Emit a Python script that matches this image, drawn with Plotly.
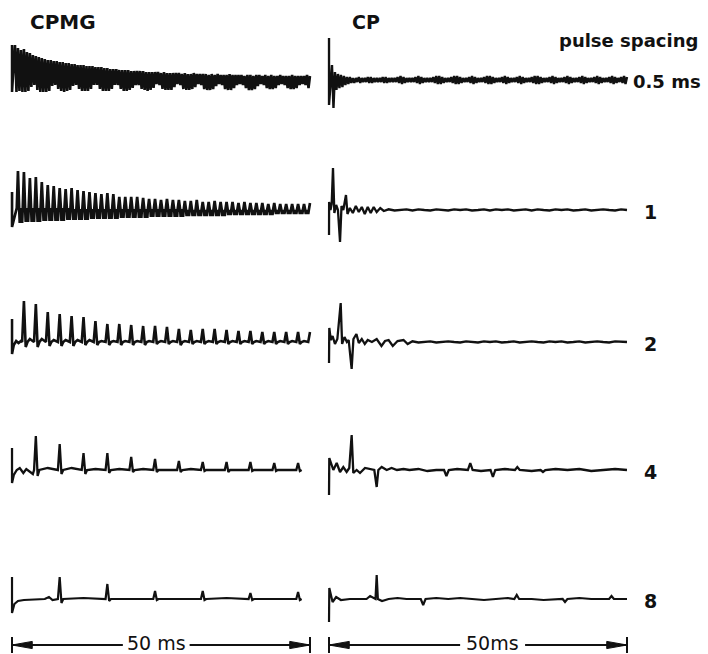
import plotly.graph_objects as go

# ---------------- data (amplitudes in arbitrary units) ----------------
total_ms = 50
pulse_spacing_ms = [0.5, 1, 2, 4, 8]
row_labels = ["0.5 ms", "1", "2", "4", "8"]
column_titles = ["CPMG", "CP"]
scale_bar_labels = ["50 ms", "50ms"]

# CPMG: initial pulse artefact (upper / lower excursion) per row
cpmg_start_hi = [35, 18, 23, 22, 22]
cpmg_start_lo = [-12, -17, -12, -13, -14]

# CPMG 0.5 ms: echo maxima and minima
cpmg05_top = [35, 32, 30, 31, 28, 27, 25, 24, 23, 22,
              21, 20, 20, 19, 19, 18, 18, 17, 17, 16,
              16, 15, 15, 15, 14, 14, 14, 13, 13, 13,
              12, 12, 11, 11, 11, 10, 10, 10, 10, 9,
              9, 9, 9, 9, 8, 8, 8, 8, 8, 7,
              8, 7, 7, 7, 7, 7, 6, 7, 6, 6,
              7, 6, 6, 6, 6, 5, 6, 5, 6, 5,
              5, 5, 6, 5, 5, 5, 5, 4, 5, 5,
              4, 5, 5, 4, 5, 4, 5, 4, 4, 5,
              4, 4, 4, 5, 4, 4, 4, 4, 5, 4]
cpmg05_bot = [-12, -11, -12, -12, -11, -7, -5, -10, -12, -12,
              -12, -11, -6, -5, -9, -11, -12, -11, -10, -6,
              -5, -9, -11, -11, -11, -9, -5, -5, -9, -11,
              -11, -11, -9, -5, -5, -9, -11, -11, -10, -8,
              -5, -5, -9, -10, -11, -10, -8, -4, -5, -9,
              -10, -10, -10, -7, -4, -5, -9, -10, -10, -9,
              -7, -4, -5, -9, -10, -10, -9, -6, -4, -5,
              -9, -10, -10, -8, -5, -4, -5, -8, -10, -10,
              -9, -6, -4, -5, -8, -9, -9, -8, -5, -4,
              -5, -8, -9, -9, -8, -5, -4, -5, -8, -9]

# CPMG 1 ms: echo maxima, upper edge of the dense lower band, band minima
cpmg1_top = [39, 38, 32, 33, 28, 25, 24, 22, 21, 22,
             20, 19, 18, 17, 16, 17, 16, 13, 13, 13,
             13, 12, 11, 11, 10, 11, 10, 10, 9, 9,
             10, 8, 8, 9, 8, 8, 8, 7, 8, 7,
             7, 7, 6, 7, 6, 6, 6, 6, 6, 7]
cpmg1_mid = [2, 2, 2, 2, 2, 2, 2, 2, 2, 1,
             1, 1, 1, 1, 1, 1, 1, 1, 1, 1,
             1, 1, 1, 1, 1, 1, 1, 1, 0, 0,
             0, 0, 0, 0, 0, 0, 0, 0, 0, 0,
             0, 0, 0, 0, 0, 0, 0, 0, 0, 0]
cpmg1_bot = [-13, -12, -12, -12, -11, -11, -11, -11, -10, -10,
             -10, -10, -9, -9, -9, -9, -9, -8, -8, -8,
             -8, -8, -7, -7, -7, -7, -7, -7, -6, -6,
             -6, -6, -6, -6, -6, -5, -5, -5, -5, -5,
             -5, -5, -5, -4, -4, -4, -4, -4, -4, -4]

# CPMG 2 ms
cpmg2_top = [41, 38, 30, 28, 26, 25, 21, 18, 18, 17,
             16, 16, 15, 13, 12, 13, 13, 12, 11, 11,
             10, 10, 10, 10, 10]
cpmg2_dip = [-5, -5, -4, -4, -4, -3, -3, -3, -3, -3,
             -3, -2, -2, -3, -2, -2, -2, -2, -2, -2,
             -2, -2, -2, -2, -2]
cpmg2_bump = [3, 3, 2, 2, 2, 2, 1, 1, 1, 1, 1, 1,
              1, 1, 1, 1, 1, 1, 1, 1, 1, 1, 1, 1]
cpmg2_pre_t = [0.3, 0.7, 1.1, 1.5]
cpmg2_pre_y = [-3, 1, -1, 1]

# CPMG 4 ms
cpmg4_top = [34, 26, 17, 17, 13, 11, 9, 8, 8, 8, 7, 7]
cpmg4_dip = [-6, -4, -4, -3, -2, -2, -2, -1, -2, -1, -1, -1]
cpmg4_bump = [2, 2, 1, 1, 1, 0, 1, 0, 0, 0, 0]
cpmg4_pre_t = [0.3, 0.8, 1.3, 1.9, 2.4, 3.0, 3.5]
cpmg4_pre_y = [-5, 0, 2, -3, 1, -2, -4]

# CPMG 8 ms
cpmg8_top = [22, 15, 8, 8, 6, 7]
cpmg8_dip = [-4, -2, -1, -1, -1, -1]
cpmg8_bump = [1, 0, 0, 1, 0]
cpmg8_pre_t = [0.4, 1.0, 2.0, 4.0, 5.5, 6.2, 6.8]
cpmg8_pre_y = [-5, -2, -1, 0, 0, 2, -1]

# CP 0.5 ms: start artefact, then echo maxima / minima
cp05_start_hi = 42
cp05_start_lo = -25
cp05_top = [15, 8, 6, 5, 4, 3, 3, 2, 2, 3,
            2, 2, 3, 3, 2, 2, 2, 3, 3, 2,
            2, 2, 3, 4, 3, 2, 2, 2, 3, 4,
            3, 2, 2, 2, 3, 4, 4, 3, 2, 2,
            3, 4, 4, 3, 2, 2, 3, 4, 3, 2,
            2, 3, 4, 4, 3, 2, 2, 3, 4, 3,
            2, 2, 3, 4, 3, 2, 2, 3, 4, 4,
            3, 2, 2, 3, 4, 3, 2, 2, 3, 4,
            3, 2, 2, 3, 4, 3, 2, 2, 3, 4,
            3, 2, 2, 3, 4, 3, 2, 3, 4, 3]
cp05_bot = [-28, -10, -8, -7, -5, -4, -3, -3, -2, -3,
            -2, -2, -3, -3, -2, -2, -2, -3, -3, -2,
            -2, -2, -3, -4, -3, -2, -2, -2, -3, -4,
            -3, -2, -2, -2, -3, -4, -4, -3, -2, -2,
            -3, -4, -4, -3, -2, -2, -3, -4, -3, -2,
            -2, -3, -4, -4, -3, -2, -2, -3, -4, -3,
            -2, -2, -3, -4, -3, -2, -2, -3, -4, -4,
            -3, -2, -2, -3, -4, -3, -2, -2, -3, -4,
            -3, -2, -2, -3, -4, -3, -2, -2, -3, -4,
            -3, -2, -2, -3, -4, -3, -2, -3, -4, -3]

# CP 1 ms
cp1_t = [0, 0.02, 0.25, 0.45, 0.67, 0.9, 1.2, 1.5, 1.85, 2.1,
         2.4, 2.85, 3.1, 3.5, 4.0, 4.5, 5.0, 5.5, 6.0, 6.5,
         7.0, 7.5, 8.0, 8.6, 9.2,
         10, 11, 12, 13, 14, 15, 16, 17, 18, 19,
         20, 21, 22, 23, 24, 25, 26, 27, 28, 29,
         30, 31, 32, 33, 34, 35, 36, 37, 38, 39,
         40, 41, 42, 43, 44, 45, 46, 47, 48, 49, 50]
cp1_y = [-25, 8, 0, 6, 42, -3, 5, 0, -32, 4,
         0, 15, -4, 2, -3, 4, -2, 3, -4, 3,
         -3, 3, -2, 2, -1,
         0.7, -0.5, 0, 0.7, -0.5, 0.7, 0, -0.5, 0.7, 0,
         -0.5, 0.7, 0, 0.7, -0.5, 0, 0.7, -0.5, 0.7, 0,
         0.7, -0.5, 0, 0.7, -0.5, 0.7, 0, -0.5, 0.7, 0,
         0.7, -0.5, 0, 0.7, -0.5, 0, 0.7, 0, -0.5, 0.7, 0]

# CP 2 ms
cp2_t = [0, 0.05, 0.3, 0.6, 1.0, 1.4, 1.96, 2.2, 2.6, 3.0,
         3.3, 3.8, 4.1, 4.6, 5.0, 5.5, 6.0, 6.5, 7.2, 8.0,
         8.8, 9.4, 10.0, 10.7, 11.5, 12.5, 13.2,
         14, 15, 16, 17, 18, 19, 20, 21, 22, 23,
         24, 25, 26, 27, 28, 29, 30, 31, 32, 33,
         34, 35, 36, 37, 38, 39, 40, 41, 42, 43,
         44, 45, 46, 47, 48, 49, 50]
cp2_y = [-21, 14, 2, 6, -2, 3, 39, -2, 5, 0,
         2, -27, 3, 8, -1, 3, -2, 2, 0, 3,
         -4, 1, 2, -4, 1, 2, -2,
         0.7, -0.5, 0, 0.7, -0.5, 0, 0.7, 0, -0.5, 0.7,
         0, -0.5, 0.7, 0, 0.7, -0.5, 0, 0.7, -0.5, 0,
         0.7, 0, -0.5, 0.7, 0, 0.7, -0.5, 0, 0.7, -0.5,
         0, 0.7, 0, -0.5, 0.7, 0, 0]

# CP 4 ms
cp4_t = [0, 0.05, 0.73, 1.29, 1.85, 2.4, 2.96, 3.4, 3.8, 4.08,
         4.64, 5.2, 6.04, 6.88, 7.6, 8.0, 8.28, 8.84, 9.68, 10.5,
         11.4, 12.5, 13.5, 15, 16.5, 18, 19.3, 19.7, 20.1, 21.5,
         23.3, 23.7, 24.1, 25.5, 27.1, 27.5, 27.9, 29.5, 31.2, 31.6,
         32.0, 34, 35.5, 35.9, 36.3, 38, 40, 42, 44, 46,
         48, 50]
cp4_y = [-25, 12, 0, 7, -2, 3, -2, 2, 35, -3,
         0, -3, 2, 1, 0, -17, 0, 3, 0, 2,
         0, 1, 0, 1, -1, 0, 0, -6, 0, 1,
         0, 7, 0, -1, 0, -7, 0, 1, 0, 3,
         0, -1, 0, -2, 0, 1, 0, 1, -1, 0,
         1, 0]

# CP 8 ms
cp8_t = [0, 0.05, 0.6, 1.2, 2.0, 3.5, 5.0, 6.3, 6.9, 7.8,
         8.0, 8.2, 8.9, 10, 11.5, 13, 14.5, 15.4, 15.8, 16.2,
         18, 20, 22, 24, 26, 28, 30, 31.1, 31.5, 31.9,
         34, 36, 38, 39.2, 39.6, 40.0, 42, 44, 46, 47.0,
         47.4, 47.8, 50]
cp8_y = [-23, 11, -3, 2, -1, 0, 0, 0, 3, 0,
         24, 0, -2, 0, 1, 0, 0, 0, -6, 0,
         1, 0, 1, 0, -1, 0, 1, 0, 4, 0,
         0, -1, 0, 0, -3, 0, 1, 0, 0, 0,
         3, 0, 0]


# ---------------- build traces ----------------
def clip(t, y):
    pts = [(a, b) for a, b in zip(t, y) if a <= total_ms]
    return [p[0] for p in pts], [p[1] for p in pts]


def dense_train(spacing, tops, bots, hi, lo):
    t, y = [0, 0], [hi, lo]
    for k, (a, b) in enumerate(zip(tops, bots), start=1):
        tk = k * spacing
        t += [tk, tk + spacing / 2]
        y += [a, b]
    return clip(t, y)


def bar_train(spacing, tops, mids, bots, hi, lo):
    # narrow echo peaks rising out of a densely oscillating lower band
    t, y = [0, 0], [hi, lo]
    for k, (a, m, b) in enumerate(zip(tops, mids, bots), start=1):
        tk = k * spacing
        t += [tk - 0.2 * spacing, tk, tk + 0.2 * spacing, tk + 0.3 * spacing,
              tk + 0.4 * spacing, tk + 0.5 * spacing, tk + 0.6 * spacing,
              tk + 0.7 * spacing]
        y += [m, a, m, b, m, b, m, b]
    return clip(t, y)


def sparse_train(spacing, tops, dips, bumps, pre_t, pre_y, hi, lo):
    t, y = [0, 0] + list(pre_t), [hi, lo] + list(pre_y)
    for k, a in enumerate(tops, start=1):
        tk = k * spacing
        t += [tk - 0.3, tk, tk + 0.3, tk + 0.6]
        y += [0, a, dips[k - 1], 0]
        if k - 1 < len(bumps):
            t.append(tk + spacing / 2)
            y.append(bumps[k - 1])
    return clip(t, y)


cpmg_traces = [
    dense_train(0.5, cpmg05_top, cpmg05_bot, cpmg_start_hi[0], cpmg_start_lo[0]),
    bar_train(1, cpmg1_top, cpmg1_mid, cpmg1_bot, cpmg_start_hi[1], cpmg_start_lo[1]),
    sparse_train(2, cpmg2_top, cpmg2_dip, cpmg2_bump, cpmg2_pre_t, cpmg2_pre_y,
                 cpmg_start_hi[2], cpmg_start_lo[2]),
    sparse_train(4, cpmg4_top, cpmg4_dip, cpmg4_bump, cpmg4_pre_t, cpmg4_pre_y,
                 cpmg_start_hi[3], cpmg_start_lo[3]),
    sparse_train(8, cpmg8_top, cpmg8_dip, cpmg8_bump, cpmg8_pre_t, cpmg8_pre_y,
                 cpmg_start_hi[4], cpmg_start_lo[4]),
]
cp_traces = [
    dense_train(0.5, cp05_top, cp05_bot, cp05_start_hi, cp05_start_lo),
    (cp1_t, cp1_y),
    (cp2_t, cp2_y),
    (cp4_t, cp4_y),
    (cp8_t, cp8_y),
]
cpmg_widths = [2.6, 2.7, 2.6, 2.3, 2.2]
cp_widths = [2.4, 2.3, 2.3, 2.3, 2.2]

# ---------------- layout geometry (pixels of the 708 x 654 page) ----------------
W, H = 708, 654
col_x0 = [12, 329]           # pixel x of t = 0 for each column
px_per_ms = (310 - 12) / total_ms
row_base = [80, 210, 342, 470, 599]  # pixel y of each baseline
half_h = 50
pad = 0.3

fig = go.Figure()
layout = dict(width=W, height=H, margin=dict(l=0, r=0, t=0, b=0),
              paper_bgcolor="white", plot_bgcolor="white", showlegend=False)

ink = "#111111"
for r in range(5):
    for c in range(2):
        i = r * 2 + c + 1
        xs = "" if i == 1 else str(i)
        x0 = col_x0[c]
        layout["xaxis" + xs] = dict(
            domain=[(x0 - pad * px_per_ms) / W, (x0 + (total_ms + pad) * px_per_ms) / W],
            range=[-pad, total_ms + pad], visible=False, anchor="y" + xs, fixedrange=True)
        b = row_base[r]
        layout["yaxis" + xs] = dict(
            domain=[1 - (b + half_h) / H, 1 - (b - half_h) / H],
            range=[-half_h, half_h], visible=False, anchor="x" + xs, fixedrange=True)
        t, y = (cpmg_traces if c == 0 else cp_traces)[r]
        w = cpmg_widths[r] if c == 0 else cp_widths[r]
        fig.add_trace(go.Scatter(x=t, y=y, mode="lines", xaxis="x" + xs, yaxis="y" + xs,
                                 line=dict(color=ink, width=w), hoverinfo="skip"))

fig.update_layout(**layout)

font_b = dict(family="DejaVu Sans", color=ink)
ann = []
ann.append(dict(x=28 / W, y=1 - 22 / H, xref="paper", yref="paper", text="<b>" + column_titles[0] + "</b>",
                showarrow=False, xanchor="left", yanchor="middle", font=dict(size=20, **font_b)))
ann.append(dict(x=350 / W, y=1 - 22 / H, xref="paper", yref="paper", text="<b>" + column_titles[1] + "</b>",
                showarrow=False, xanchor="left", yanchor="middle", font=dict(size=19, **font_b)))
ann.append(dict(x=557 / W, y=1 - 41 / H, xref="paper", yref="paper", text="<b>pulse spacing</b>",
                showarrow=False, xanchor="left", yanchor="middle", font=dict(size=18, **font_b)))
for r, lab in enumerate(row_labels):
    if r == 0:
        ann.append(dict(x=631 / W, y=1 - 81 / H, xref="paper", yref="paper", text="<b>" + lab + "</b>",
                        showarrow=False, xanchor="left", yanchor="middle", font=dict(size=18, **font_b)))
    else:
        ann.append(dict(x=650 / W, y=1 - (row_base[r] + 2) / H, xref="paper", yref="paper",
                        text="<b>" + lab + "</b>", showarrow=False, xanchor="center",
                        yanchor="middle", font=dict(size=19, **font_b)))

# scale bars (50 ms) under each column
bar_y = 1 - 645 / H
label_y = 1 - 643 / H
tick_lo, tick_hi = 1 - 653 / H, 1 - 637 / H
arrow_len = 3.4
arrow_w = 3.6 / H
label_center_ms = [24.2, 27.4]
label_gap_ms = [(18.6, 29.8), (22.0, 32.9)]
shapes = []
for c in range(2):
    xr = "x9" if c == 0 else "x10"
    g0, g1 = label_gap_ms[c]
    line = dict(color=ink, width=2)
    shapes.append(dict(type="line", xref=xr, yref="paper", x0=0, x1=g0, y0=bar_y, y1=bar_y, line=line))
    shapes.append(dict(type="line", xref=xr, yref="paper", x0=g1, x1=total_ms, y0=bar_y, y1=bar_y, line=line))
    for xe in (0, total_ms):
        shapes.append(dict(type="line", xref=xr, yref="paper", x0=xe, x1=xe, y0=tick_lo, y1=tick_hi, line=line))
    shapes.append(dict(type="path", xref=xr, yref="paper",
                       path=f"M 0,{bar_y} L {arrow_len},{bar_y + arrow_w} L {arrow_len},{bar_y - arrow_w} Z",
                       fillcolor=ink, line=dict(color=ink, width=1)))
    shapes.append(dict(type="path", xref=xr, yref="paper",
                       path=f"M {total_ms},{bar_y} L {total_ms - arrow_len},{bar_y + arrow_w} "
                            f"L {total_ms - arrow_len},{bar_y - arrow_w} Z",
                       fillcolor=ink, line=dict(color=ink, width=1)))
    ann.append(dict(x=label_center_ms[c], y=label_y, xref=xr, yref="paper", text=scale_bar_labels[c],
                    showarrow=False, xanchor="center", yanchor="middle", borderpad=0,
                    font=dict(size=19, family="DejaVu Sans", color=ink)))

fig.update_layout(annotations=ann, shapes=shapes)
fig.write_html("out.html", config={"displayModeBar": False, "staticPlot": True},
               post_script="document.body.style.margin='0px';document.body.style.padding='0px';")
